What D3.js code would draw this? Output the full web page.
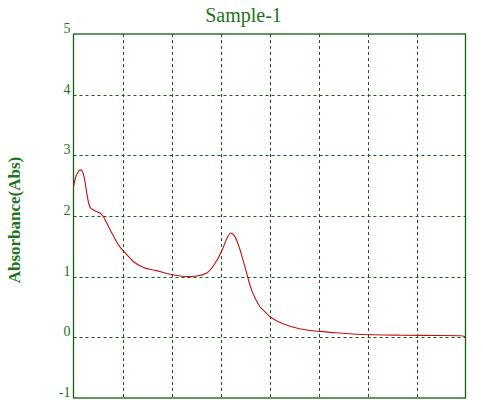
<!DOCTYPE html>
<html><head><meta charset="utf-8">
<script src="https://cdn.jsdelivr.net/npm/d3@7/dist/d3.min.js"></script>
<style>body{margin:0;background:#fff}svg{display:block}</style>
</head><body><svg id="c" width="483" height="402"></svg>
<script>
const wavelength = [200,204,210,214,217,221,224,227,231,235,241,248,254,261,268,275,292,309,322,343,370,397,418,434,452,472,489,506,514,521,527,533,540,545,552,558,564,571,581,591,601,615,629,649,676,700,724,744,770,812,870,950,990,1000];
const absorbance = [2.48,2.63,2.73,2.76,2.75,2.66,2.54,2.38,2.21,2.13,2.10,2.07,2.05,1.99,1.88,1.77,1.52,1.36,1.25,1.15,1.10,1.04,1.01,1.00,1.01,1.06,1.22,1.49,1.65,1.72,1.69,1.60,1.44,1.30,1.10,0.92,0.77,0.64,0.50,0.42,0.34,0.27,0.22,0.165,0.12,0.10,0.082,0.071,0.055,0.042,0.035,0.03,0.027,0.01];
const yTicks = [-1,0,1,2,3,4,5];
const xGrid = [200,300,400,500,600,700,800,900,1000];
const title = "Sample-1";
const yLabel = "Absorbance(Abs)";

const svg = d3.select("#c");
const L = 73.5, R = 465.5, T = 34, B = 398;
const x = d3.scaleLinear().domain([200,1000]).range([L,R]);
const y = d3.scaleLinear().domain([-1,5]).range([B,T]);
const lineCol = "#0d620d", textCol = "#1a751a";

// grid
svg.append("g").selectAll("line").data(xGrid.slice(1,-1)).join("line")
  .attr("x1",d=>Math.round(x(d))+0.5).attr("x2",d=>Math.round(x(d))+0.5)
  .attr("y1",T).attr("y2",B).attr("stroke",lineCol).attr("stroke-dasharray","3,3");
svg.append("g").selectAll("line").data(yTicks.slice(1,-1)).join("line")
  .attr("y1",d=>Math.round(y(d))+0.5).attr("y2",d=>Math.round(y(d))+0.5)
  .attr("x1",L).attr("x2",R).attr("stroke",lineCol).attr("stroke-dasharray","3,3");

// frame
svg.append("rect").attr("x",L).attr("y",T).attr("width",R-L).attr("height",B-T)
  .attr("fill","none").attr("stroke",lineCol).attr("stroke-width",1.3);

// y axis labels
const ax = svg.append("g").attr("transform",`translate(${L-2},0)`)
  .call(d3.axisLeft(y).tickValues(yTicks).tickSize(0).tickPadding(1).tickFormat(d=>String(d)));
ax.select(".domain").remove();
ax.selectAll("text").attr("font-family","'Liberation Serif',serif").attr("font-size",14)
  .attr("fill",textCol).attr("dy","-0.1em");

// curve
svg.append("path").datum(wavelength.map((w,i)=>[w,absorbance[i]]))
  .attr("fill","none").attr("stroke","#c41010").attr("stroke-width",1.1)
  .attr("d",d3.line().x(d=>x(d[0])).y(d=>y(d[1])).curve(d3.curveMonotoneX));

// title
svg.append("text").attr("x",243.5).attr("y",22).attr("text-anchor","middle")
  .attr("font-family","'Liberation Serif',serif").attr("font-size",20).attr("fill",textCol).text(title);

// y label
svg.append("text").attr("transform","translate(20,220) rotate(-90)").attr("text-anchor","middle")
  .attr("font-family","'Liberation Serif',serif").attr("font-size",17).attr("font-weight","bold")
  .attr("fill",textCol).text(yLabel);
</script></body></html>
